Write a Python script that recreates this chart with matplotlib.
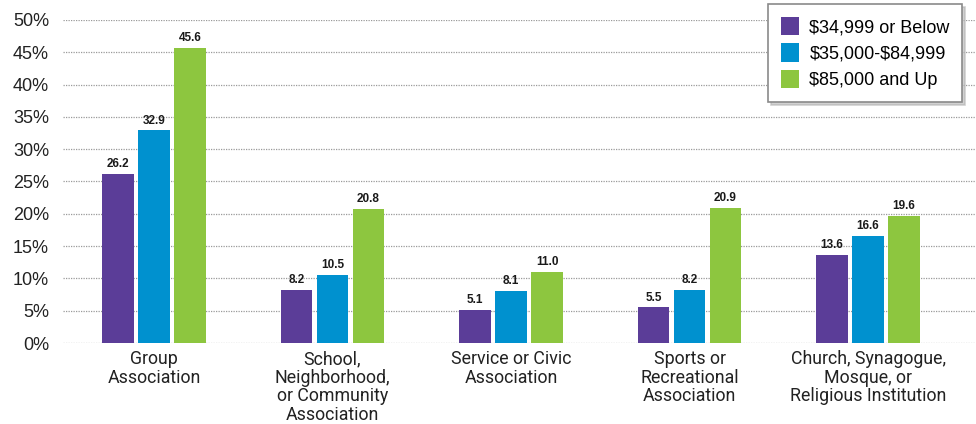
import numpy as np
import matplotlib.pyplot as plt
from matplotlib import font_manager

categories = ["Group\nAssociation",
              "School,\nNeighborhood,\nor Community\nAssociation",
              "Service or Civic\nAssociation",
              "Sports or\nRecreational\nAssociation",
              "Church, Synagogue,\nMosque, or\nReligious Institution"]
series_names = ["$34,999 or Below", "$35,000-$84,999", "$85,000 and Up"]
low_income = [26.2, 8.2, 5.1, 5.5, 13.6]
mid_income = [32.9, 10.5, 8.1, 8.2, 16.6]
high_income = [45.6, 20.8, 11.0, 20.9, 19.6]
yticks = [0, 5, 10, 15, 20, 25, 30, 35, 40, 45, 50]

colors = ["#5b3d98", "#0091cf", "#8dc63f"]

installed = {f.name for f in font_manager.fontManager.ttflist}
narrow = "Liberation Sans Narrow" if "Liberation Sans Narrow" in installed else "Roboto"
plt.rcParams['font.family'] = ['Liberation Sans', 'DejaVu Sans']

fig = plt.figure(figsize=(9.76, 4.24), dpi=100)
ax = fig.add_axes([0.0645, 0.191, 0.9355, 0.762])

x = np.arange(len(categories))
step = 0.2017
width = 0.179
for i, (vals, name) in enumerate(zip([low_income, mid_income, high_income], series_names)):
    bars = ax.bar(x + (i - 1) * step, vals, width, color=colors[i], label=name.replace("$", r"\$"), zorder=3)
    for b, v in zip(bars, vals):
        ax.text(b.get_x() + b.get_width() / 2, v + 0.6, f"{v:.1f}", ha="center", va="bottom",
                fontsize=8.5, fontweight="bold", color="#1a1a1a", zorder=4)

ax.set_xlim(-0.51, 4.605)
ax.set_ylim(0, 50)
ax.set_yticks(yticks)
ax.set_yticklabels([f"{t}%" for t in yticks], fontsize=13, color="#222222")
ax.set_xticks(x)
ax.set_xticklabels(categories, fontsize=12.8, color="#222222", family=narrow, linespacing=1.05)
ax.tick_params(axis="both", length=0)
ax.tick_params(axis="y", pad=10)
ax.tick_params(axis="x", pad=5)
ax.yaxis.grid(True, linestyle=(0, (1, 1)), color="#9a9a9a", linewidth=0.9, zorder=0)
ax.set_axisbelow(True)
for s in ax.spines.values():
    s.set_visible(False)

leg = ax.legend(loc="upper right", bbox_to_anchor=(0.995, 1.077), fontsize=13, frameon=True,
                fancybox=False, shadow={'color': '0.7', 'alpha': 0.6}, handlelength=1.0,
                handleheight=1.2, borderpad=0.7, labelspacing=0.4, handletextpad=0.6)
leg.get_frame().set_edgecolor("#8a8a8a")
leg.get_frame().set_linewidth(1.2)

fig.savefig("out.png", dpi=100)
